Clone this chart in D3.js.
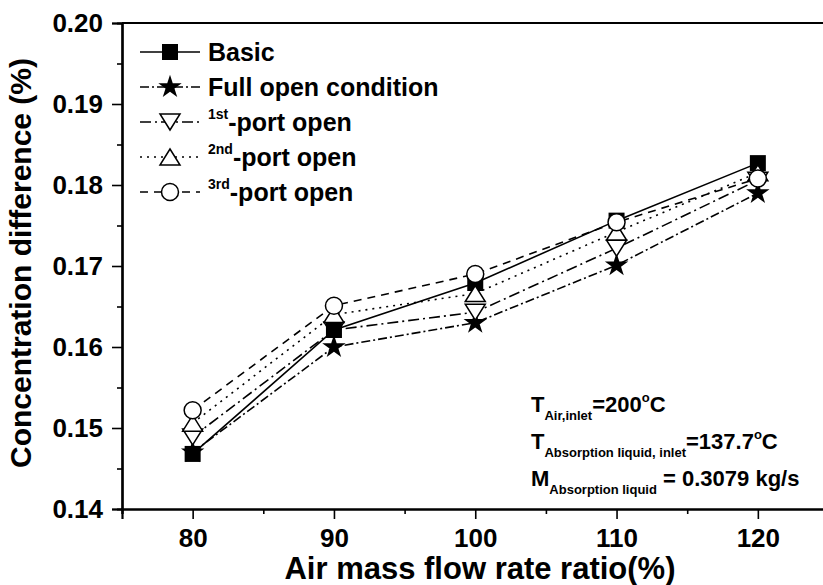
<!DOCTYPE html>
<html>
<head>
<meta charset="utf-8">
<script src="https://cdn.jsdelivr.net/npm/d3@7"></script>
<style>
  body { margin: 0; background: #fff; }
  svg { display: block; font-family: "Liberation Sans", Arial, sans-serif; font-weight: bold; }
</style>
</head>
<body>
<div id="chart"></div>
<script>
const width = 823, height = 585;

// data
const airRatio = [80, 90, 100, 110, 120];
const basic    = [0.1468, 0.1621, 0.1679, 0.1756, 0.1827];
const fullOpen = [0.1470, 0.1600, 0.1630, 0.1701, 0.1790];
const port1    = [0.1489, 0.1621, 0.1643, 0.1722, 0.1806];
const port2    = [0.1506, 0.1640, 0.1666, 0.1742, 0.1815];
const port3    = [0.1522, 0.1651, 0.1690, 0.1754, 0.1808];
const xTicks = [80, 90, 100, 110, 120];
const yTicks = [0.14, 0.15, 0.16, 0.17, 0.18, 0.19, 0.20];

const series = [
  { key: "full",  values: fullOpen, label: "Full open condition", sup: null,  dash: "9,3,2,3",  marker: "star" },
  { key: "port1", values: port1,    label: "-port open",          sup: "1st", dash: "11,4,2,4", marker: "down" },
  { key: "basic", values: basic,    label: "Basic",               sup: null,  dash: null,       marker: "square" },
  { key: "port2", values: port2,    label: "-port open",          sup: "2nd", dash: "2,5",      marker: "up" },
  { key: "port3", values: port3,    label: "-port open",          sup: "3rd", dash: "8,6",      marker: "circle" }
];
const legendOrder = ["basic", "full", "port1", "port2", "port3"];

const svg = d3.select("#chart").append("svg")
  .attr("width", width)
  .attr("height", height);

const x = d3.scaleLinear().domain([75, 125]).range([122, 828.5]);
const y = d3.scaleLinear().domain([0.14, 0.20]).range([509, 23]);

// marker shapes
function drawMarker(g, type) {
  if (type === "square") {
    g.append("rect").attr("x", -8).attr("y", -8).attr("width", 16).attr("height", 16)
      .attr("fill", "#000");
  } else if (type === "star") {
    g.append("path").attr("d", d3.symbol(d3.symbolStar, 170)()).attr("fill", "#000");
  } else if (type === "up") {
    g.append("path").attr("d", "M0,-8L10,8L-10,8Z")
      .attr("fill", "#fff").attr("stroke", "#000").attr("stroke-width", 1.5);
  } else if (type === "down") {
    g.append("path").attr("d", "M0,8L10,-8L-10,-8Z")
      .attr("fill", "#fff").attr("stroke", "#000").attr("stroke-width", 1.5);
  } else if (type === "circle") {
    g.append("circle").attr("r", 8.5)
      .attr("fill", "#fff").attr("stroke", "#000").attr("stroke-width", 1.5);
  }
}

// axes
const xAxis = d3.axisBottom(x).tickValues(xTicks).tickSize(10).tickPadding(6);
const xMinor = d3.axisBottom(x).tickValues(d3.range(75, 130, 10)).tickSize(5).tickFormat("");
const yAxis = d3.axisLeft(y).tickValues(yTicks).tickSize(10).tickPadding(9).tickFormat(d3.format(".2f"));
const yMinor = d3.axisLeft(y).tickValues(d3.range(0.145, 0.2, 0.01)).tickSize(5).tickFormat("");

function styleAxis(g) {
  g.select(".domain").attr("stroke-width", 2.2);
  g.selectAll(".tick line").attr("stroke-width", 1.6);
  g.selectAll("text").attr("font-size", 26).attr("font-weight", "bold").attr("fill", "#000")
    .attr("font-family", "Liberation Sans, Arial, sans-serif");
}

svg.append("g").attr("transform", "translate(0,509)").call(xMinor).call(styleAxis);
const gx = svg.append("g").attr("transform", "translate(0,509)").call(xAxis).call(styleAxis);
gx.selectAll(".tick text").attr("dy", "0.86em");
svg.append("g").attr("transform", "translate(122,0)").call(yMinor).call(styleAxis);
svg.append("g").attr("transform", "translate(122,0)").call(yAxis).call(styleAxis);

// top frame line
svg.append("line").attr("x1", 122).attr("x2", 830).attr("y1", 23).attr("y2", 23)
  .attr("stroke", "#000").attr("stroke-width", 2.2);

// axis titles
svg.append("text")
  .attr("x", 480).attr("y", 579)
  .attr("text-anchor", "middle")
  .attr("font-size", 31)
  .text("Air mass flow rate ratio(%)");

svg.append("text")
  .attr("transform", "translate(31,263) rotate(-90)")
  .attr("text-anchor", "middle")
  .attr("font-size", 30)
  .text("Concentration difference (%)");

// lines
const line = d3.line().x((d, i) => x(airRatio[i])).y(d => y(d));

svg.append("g").selectAll("path")
  .data(series)
  .join("path")
  .attr("d", d => line(d.values))
  .attr("fill", "none")
  .attr("stroke", "#000")
  .attr("stroke-width", 1.6)
  .attr("stroke-dasharray", d => d.dash);

// markers
series.forEach(s => {
  s.values.forEach((v, i) => {
    const g = svg.append("g").attr("transform", `translate(${x(airRatio[i])},${y(v)})`);
    drawMarker(g, s.marker);
  });
});

// legend
const legend = svg.append("g");
legendOrder.forEach((k, i) => {
  const s = series.find(d => d.key === k);
  const ly = 52 + i * 35;
  legend.append("line")
    .attr("x1", 140).attr("x2", 200).attr("y1", ly).attr("y2", ly)
    .attr("stroke", "#000").attr("stroke-width", 1.6)
    .attr("stroke-dasharray", s.dash);
  drawMarker(legend.append("g").attr("transform", `translate(170,${ly})`), s.marker);
  const t = legend.append("text").attr("x", 208).attr("y", ly + 9).attr("font-size", 25);
  if (s.sup) {
    t.append("tspan").attr("font-size", 14).attr("dy", -12).text(s.sup);
    t.append("tspan").attr("dy", 12).text(s.label);
  } else {
    t.text(s.label);
  }
});

// condition notes
const notes = [
  { main: "T", sub: "Air,inlet", rest: "=200", deg: true },
  { main: "T", sub: "Absorption liquid, inlet", rest: "=137.7", deg: true },
  { main: "M", sub: "Absorption liquid", rest: " = 0.3079 kg/s", deg: false }
];
notes.forEach((n, i) => {
  const t = svg.append("text").attr("x", 531).attr("y", 412 + i * 37).attr("font-size", 22);
  t.append("tspan").text(n.main);
  t.append("tspan").attr("font-size", 13).attr("dy", 8).text(n.sub);
  t.append("tspan").attr("dy", -8).text(n.rest);
  if (n.deg) {
    t.append("tspan").attr("font-size", 13).attr("dy", -10).text("o");
    t.append("tspan").attr("dy", 10).text("C");
  }
});
</script>
</body>
</html>
